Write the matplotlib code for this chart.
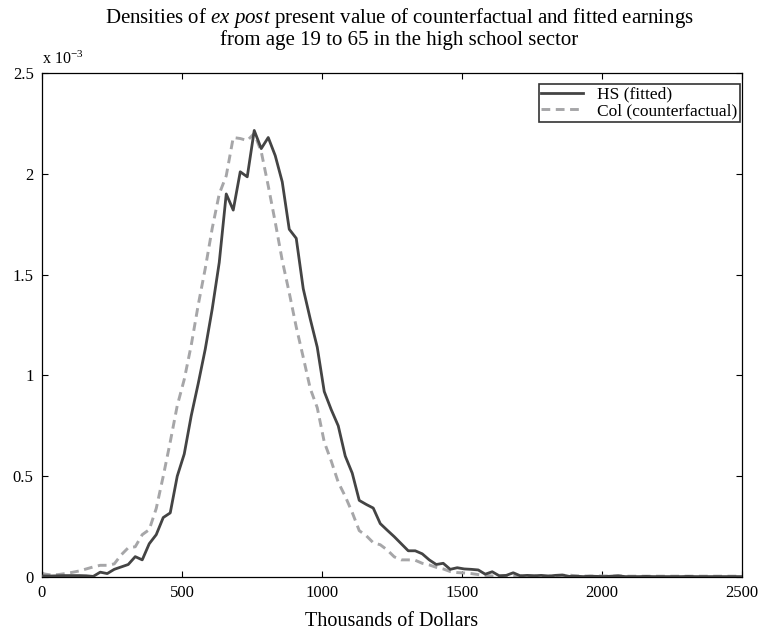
import numpy as np
import matplotlib
matplotlib.use("Agg")
import matplotlib.pyplot as plt
from matplotlib.ticker import FuncFormatter

# Bin positions (thousands of dollars)
x_vals = [0] + list(range(8, 2500, 25)) + [2500]

# HS (fitted) density, units of 1e-3
hs = [0.005,
      0.005, 0.005, 0.006, 0.007, 0.007, 0.007, 0.006, 0.003, 0.024, 0.017,
      0.038, 0.050, 0.062, 0.101, 0.085, 0.165, 0.210, 0.295, 0.318, 0.500,
      0.610, 0.800, 0.960, 1.130, 1.330, 1.560, 1.900, 1.820, 2.010, 1.985,
      2.215, 2.125, 2.180, 2.090, 1.960, 1.725, 1.680, 1.430, 1.280, 1.140,
      0.920, 0.830, 0.750, 0.600, 0.515, 0.380, 0.360, 0.342, 0.265, 0.232,
      0.200, 0.165, 0.130, 0.130, 0.115, 0.085, 0.062, 0.068, 0.038, 0.046,
      0.040, 0.038, 0.035, 0.014, 0.026, 0.006, 0.008, 0.021, 0.006, 0.008,
      0.006, 0.008, 0.004, 0.008, 0.010, 0.003, 0.004, 0.002, 0.004, 0.003,
      0.002, 0.004, 0.006, 0.002, 0.002, 0.002, 0.003, 0.002, 0.002, 0.002,
      0.002, 0.002, 0.003, 0.002, 0.002, 0.002, 0.002, 0.002, 0.002, 0.002,
      0.002]

# Col (counterfactual) density, units of 1e-3
col = [0.020,
       0.015, 0.010, 0.012, 0.017, 0.023, 0.030, 0.040, 0.050, 0.058, 0.058,
       0.065, 0.110, 0.145, 0.150, 0.210, 0.235, 0.340, 0.500, 0.670, 0.850,
       0.980, 1.150, 1.350, 1.530, 1.730, 1.900, 1.990, 2.180, 2.175, 2.165,
       2.200, 2.110, 1.940, 1.760, 1.570, 1.410, 1.240, 1.090, 0.935, 0.840,
       0.670, 0.575, 0.470, 0.400, 0.320, 0.230, 0.205, 0.170, 0.160, 0.134,
       0.100, 0.085, 0.085, 0.083, 0.068, 0.060, 0.048, 0.040, 0.027, 0.022,
       0.020, 0.017, 0.012, 0.008, 0.005, 0.005, 0.005, 0.006, 0.005, 0.005,
       0.005, 0.005, 0.006, 0.005, 0.008, 0.010, 0.005, 0.005, 0.004, 0.005,
       0.005, 0.004, 0.005, 0.004, 0.004, 0.004, 0.004, 0.004, 0.004, 0.004,
       0.004, 0.004, 0.004, 0.004, 0.004, 0.004, 0.004, 0.004, 0.004, 0.004,
       0.004]

x_ticks = [0, 500, 1000, 1500, 2000, 2500]
y_ticks = [0, 0.5, 1, 1.5, 2, 2.5]

plt.rcParams['font.family'] = ['Liberation Serif', 'DejaVu Serif']
plt.rcParams['mathtext.fontset'] = 'custom'
plt.rcParams['mathtext.rm'] = 'Liberation Serif'
plt.rcParams['mathtext.it'] = 'Liberation Serif:italic'

fig = plt.figure(figsize=(7.59, 6.31), dpi=100)
ax = fig.add_axes([42/759, 1-577/631, 700/759, 504/631])

ax.plot(x_vals, col, color='#a6a6a8', lw=2.1, dashes=(3.0, 1.9),
        label='Col (counterfactual)', zorder=2)
ax.plot(x_vals, hs, color='#444444', lw=2.0, label='HS (fitted)', zorder=3)

ax.set_xlim(0, 2500)
ax.set_ylim(0, 2.5)
ax.set_xticks(x_ticks)
ax.set_yticks(y_ticks)
ax.yaxis.set_major_formatter(FuncFormatter(lambda v, p: '%g' % v))
ax.tick_params(direction='in', length=4.5, width=0.8, top=True, right=True,
               labelsize=12, pad=6, colors='black')
for s in ax.spines.values():
    s.set_linewidth(0.9)

handles, labels = ax.get_legend_handles_labels()
leg = ax.legend(handles[::-1], labels[::-1], loc='upper right',
                bbox_to_anchor=(0.997, 0.978), fontsize=12.5,
                frameon=True, fancybox=False, edgecolor='black',
                handlelength=2.4, handletextpad=0.8, borderpad=0.15,
                labelspacing=0.0, borderaxespad=0.0)
leg.get_frame().set_linewidth(1.2)

ax.set_xlabel('Thousands of Dollars', fontsize=14.5, labelpad=8)

ax.text(0.0, 1.01, r'x 10$^{\mathregular{-3}}$', transform=ax.transAxes,
        fontsize=11.5, ha='left', va='bottom')

fig.text(399/759, 1-18/631,
         r'Densities of $\mathit{ex\ post}$ present value of counterfactual and fitted earnings',
         ha='center', va='center', fontsize=15)
fig.text(399/759, 1-40/631, 'from age 19 to 65 in the high school sector',
         ha='center', va='center', fontsize=15)

fig.savefig('out.png', dpi=100)
